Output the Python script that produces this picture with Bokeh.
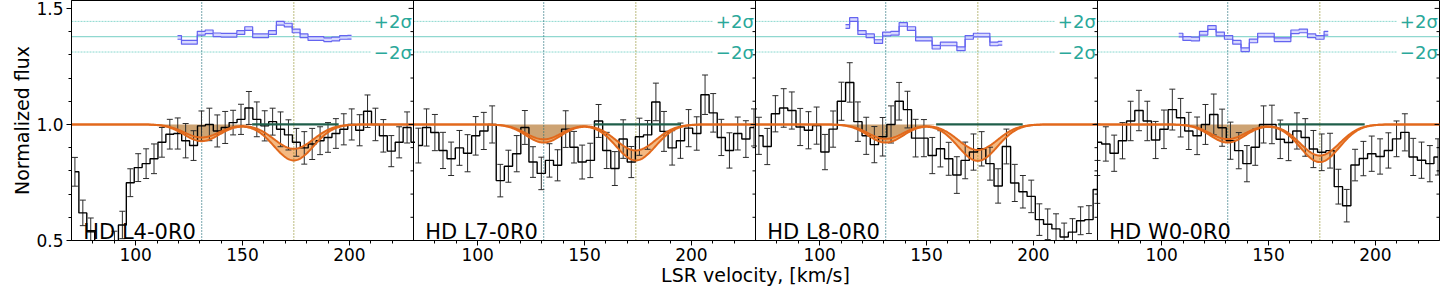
import numpy as np
from bokeh.plotting import figure
from bokeh.models import Range1d, FixedTicker, Span, Label, NumeralTickFormatter
from bokeh.embed import file_html
from bokeh.resources import INLINE

# ---------------- data ----------------
PANELS = ["HD L4-0R0", "HD L7-0R0", "HD L8-0R0", "HD W0-0R0"]

VEL_L4 = [71.6, 75.3, 79.0, 82.7, 86.4, 90.1, 93.8, 97.5, 101.2, 104.9, 108.6,
          112.3, 116.0, 119.7, 123.4, 127.1, 130.8, 134.5, 138.2, 141.9, 145.6,
          149.3, 153.0, 156.7, 160.4, 164.1, 167.8, 171.5, 175.2, 178.9, 182.6,
          186.3, 190.0, 193.7, 197.4, 201.1, 204.8, 208.5, 212.2, 215.9, 219.6,
          223.3, 227.0, 230.7]
FLUX_L4 = [0.796, 0.619, 0.537, 0.44, 0.42, 0.48, 0.567, 0.749, 0.814, 0.831, 0.852,
           0.923, 0.958, 0.961, 0.93, 0.909, 0.994, 1.0, 0.972, 0.987, 1.008,
           1.022, 1.071, 1.022, 0.994, 1.012, 0.979, 0.955, 0.923, 0.899, 0.916,
           0.93, 0.944, 0.961, 0.979, 1.0, 0.975, 1.057, 1.0, 0.951, 0.885,
           0.923, 0.987, 0.923]
ERR_L4 = [0.062, 0.055, 0.06, 0.06, 0.06, 0.06, 0.059, 0.06, 0.06, 0.064, 0.064,
          0.064, 0.064, 0.067, 0.074, 0.064, 0.064, 0.07, 0.069, 0.069, 0.053,
          0.065, 0.071, 0.075, 0.065, 0.058, 0.075, 0.065, 0.06, 0.07, 0.067,
          0.06, 0.064, 0.064, 0.067, 0.067, 0.067, 0.07, 0.07, 0.07, 0.067,
          0.067, 0.067, 0.067]

VEL_L7 = [72.3, 76.1, 80.0, 83.8, 87.6, 91.5, 95.3, 99.1, 102.9, 106.8, 110.6,
          114.4, 118.3, 122.1, 125.9, 129.8, 133.6, 137.4, 141.2, 145.1, 148.9,
          152.7, 156.6, 160.4, 164.2, 168.1, 171.9, 175.7, 179.5, 183.4, 187.2,
          191.0, 194.9, 198.7, 202.5, 206.4, 210.2, 214.0, 217.8, 221.7, 225.5, 229.3]
FLUX_L7 = [0.909, 0.987, 0.965, 0.888, 0.852, 0.899, 0.876, 0.951, 0.972, 1.0,
           0.758, 0.82, 0.874, 0.987, 0.838, 0.789, 0.845, 0.824, 0.98, 0.902,
           0.838, 0.845, 1.015, 0.888, 0.81, 0.937, 0.838, 0.947, 0.955, 1.097,
           0.97, 0.899, 0.93, 0.984, 0.961, 1.128, 1.05, 0.944, 0.888, 0.961,
           0.937, 0.987]
ERR_L7 = [0.075, 0.08, 0.078, 0.078, 0.072, 0.075, 0.08, 0.083, 0.08, 0.08,
          0.07, 0.069, 0.078, 0.073, 0.066, 0.07, 0.072, 0.067, 0.079, 0.068,
          0.073, 0.074, 0.071, 0.078, 0.073, 0.083, 0.067, 0.08, 0.062, 0.081,
          0.086, 0.074, 0.076, 0.08, 0.072, 0.085, 0.083, 0.078, 0.076, 0.071,
          0.079, 0.08]

VEL_L8 = [71.6, 75.5, 79.3, 83.2, 87.0, 90.9, 94.8, 98.6, 102.5, 106.3, 110.2,
          114.1, 117.9, 121.8, 125.6, 129.5, 133.4, 137.2, 141.1, 144.9, 148.8,
          152.7, 156.5, 160.4, 164.2, 168.1, 172.0, 175.8, 179.7, 183.5, 187.4,
          191.3, 195.1, 199.0, 202.8, 206.7, 210.6, 214.4, 218.3, 222.1, 226.0, 229.9]
FLUX_L8 = [0.951, 0.905, 1.046, 1.071, 1.06, 0.989, 0.975, 0.995, 0.881, 0.98,
           1.1, 1.181, 1.012, 0.951, 0.913, 0.947, 1.0, 1.1, 1.064, 0.941,
           0.941, 0.866, 0.895, 0.852, 0.782, 0.845, 0.881, 0.895, 0.831, 0.735,
           0.905, 0.748, 0.71, 0.69, 0.59, 0.57, 0.55, 0.515, 0.536, 0.585,
           0.59, 0.72]
ERR_L8 = [0.08, 0.078, 0.078, 0.083, 0.08, 0.08, 0.08, 0.08, 0.076, 0.078,
          0.082, 0.085, 0.085, 0.08, 0.078, 0.083, 0.08, 0.081, 0.079, 0.081,
          0.08, 0.078, 0.078, 0.071, 0.079, 0.079, 0.078, 0.074, 0.071, 0.074,
          0.075, 0.08, 0.07, 0.07, 0.068, 0.066, 0.065, 0.06, 0.058, 0.06,
          0.06, 0.06]

VEL_W0 = [70.0, 73.9, 77.8, 81.7, 85.5, 89.4, 93.3, 97.2, 101.1, 105.0, 108.9,
          112.7, 116.6, 120.5, 124.4, 128.3, 132.2, 136.1, 139.9, 143.8, 147.7,
          151.6, 155.5, 159.4, 163.3, 167.2, 171.0, 174.9, 178.8, 182.7, 186.6,
          190.5, 194.4, 198.3, 202.2, 206.1, 209.9, 213.8, 217.7, 221.6, 225.5, 229.3]
FLUX_W0 = [0.923, 0.916, 0.876, 0.93, 1.015, 1.06, 1.015, 0.933, 0.979, 1.064,
           1.029, 0.972, 0.951, 1.0, 1.043, 0.986, 0.93, 0.887, 0.831, 0.902,
           1.0, 1.0, 0.936, 0.922, 0.972, 0.944, 0.894, 0.88, 0.887, 0.732,
           0.65, 0.825, 0.853, 0.874, 0.862, 0.888, 0.938, 0.966, 0.86, 0.846,
           0.831, 0.86]
ERR_W0 = [0.078, 0.074, 0.078, 0.078, 0.085, 0.087, 0.085, 0.08, 0.083, 0.088,
          0.083, 0.08, 0.081, 0.086, 0.088, 0.08, 0.08, 0.078, 0.078, 0.078,
          0.08, 0.083, 0.083, 0.078, 0.078, 0.081, 0.08, 0.079, 0.075, 0.075,
          0.07, 0.068, 0.074, 0.076, 0.076, 0.076, 0.077, 0.08, 0.08, 0.078,
          0.078, 0.078]

VELOCITIES = [VEL_L4, VEL_L7, VEL_L8, VEL_W0]
FLUXES = [FLUX_L4, FLUX_L7, FLUX_L8, FLUX_W0]
ERRORS = [ERR_L4, ERR_L7, ERR_L8, ERR_W0]
BIN_WIDTH = [3.7, 3.83, 3.86, 3.886]

# residuals (drawn around the residual zero level)
RES_L4 = [1.375, 1.354, 1.354, 1.393, 1.399, 1.386, 1.384, 1.384, 1.396, 1.413,
          1.382, 1.382, 1.396, 1.436, 1.428, 1.403, 1.382, 1.37, 1.37, 1.365,
          1.368, 1.375, 1.376]
RES_L8 = [1.422, 1.452, 1.396, 1.382, 1.357, 1.39, 1.393, 1.431, 1.413, 1.368,
          1.368, 1.333, 1.347, 1.347, 1.326, 1.375, 1.385, 1.385, 1.347, 1.35]
RES_W0 = [1.385, 1.37, 1.368, 1.393, 1.418, 1.39, 1.375, 1.354, 1.322, 1.36,
          1.385, 1.385, 1.365, 1.365, 1.399, 1.403, 1.382, 1.375, 1.393]
RESIDUALS = [RES_L4, None, RES_L8, RES_W0]
RES_V0 = [119.6, None, 112.1, 108.0]   # velocity of the first residual bin
RES_HALFWIDTH = 0.008
RES_ZERO = 1.378
RES_TWO_SIGMA = 0.066

# fitted model: two components
LINE_V = [130.9, 174.0]
COMP_SIGMA = [8.2, 9.2]
C1_DEPTH_LO = [0.056, 0.064, 0.062, 0.063]
C1_DEPTH_HI = [0.072, 0.078, 0.078, 0.078]
C2_DEPTH_LO = [0.105, 0.112, 0.11, 0.134]
C2_DEPTH_HI = [0.155, 0.155, 0.157, 0.162]
EXTRA_COMP_SPAN = [154.5, 195.0]

V_MIN, V_MAX = 70.0, 230.0
SPAN = V_MAX - V_MIN
OFFSETS = [0.0, SPAN, 2 * SPAN, 3 * SPAN]
X_MAJOR = [100, 150, 200]
X_MINOR = [80, 90, 110, 120, 130, 140, 160, 170, 180, 190, 210, 220]
Y_MAJOR = [0.5, 1.0, 1.5]
Y_MINOR = [0.6, 0.7, 0.8, 0.9, 1.1, 1.2, 1.3, 1.4]
Y_TOP = 1.534

FONT = "DejaVu Sans"
ORANGE = "#e2691c"
BAND = "#f2ad6c"
TAN = "#c4935a"
TEAL = "#2aa89a"

# ---------------- figure ----------------
p = figure(width=1440, height=288,
           x_range=Range1d(V_MIN, V_MIN + 4 * SPAN), y_range=Range1d(0.5, Y_TOP),
           output_backend="svg", toolbar_location=None,
           min_border_left=71, min_border_right=1, min_border_top=0, min_border_bottom=44)
p.xgrid.visible = False
p.ygrid.visible = False
p.outline_line_color = "black"
p.outline_line_width = 1
p.background_fill_color = "white"

majors, minors, overrides = [], [], {}
for off in OFFSETS:
    for t in X_MAJOR:
        majors.append(t + off)
        overrides[int(t + off)] = str(t)
    minors += [t + off for t in X_MINOR]
p.xaxis.ticker = FixedTicker(ticks=majors, minor_ticks=minors)
p.xaxis.major_label_overrides = overrides
p.yaxis.ticker = FixedTicker(ticks=Y_MAJOR, minor_ticks=Y_MINOR)
p.yaxis.formatter = NumeralTickFormatter(format="0.0")
for ax in (p.xaxis[0], p.yaxis[0]):
    ax.major_tick_in = 0
    ax.minor_tick_in = 0
    ax.major_tick_out = 5
    ax.minor_tick_out = 3
    ax.major_label_text_font = FONT
    ax.major_label_text_font_size = "17px"
    ax.major_label_text_color = "black"
    ax.axis_line_color = "black"
    ax.major_tick_line_color = "black"
    ax.minor_tick_line_color = "black"
    ax.axis_label_text_font = FONT
    ax.axis_label_text_font_size = "19px"
    ax.axis_label_text_font_style = "normal"
    ax.axis_label_text_color = "black"
    ax.axis_label_standoff = 0
p.xaxis.major_label_standoff = 2
p.yaxis.major_label_standoff = 3
p.xaxis.axis_label = "LSR velocity, [km/s]"
p.yaxis.axis_label = "Normalized flux"

vfine = np.linspace(V_MIN, V_MAX, 401)
g1 = np.exp(-0.5 * ((vfine - LINE_V[0]) / COMP_SIGMA[0]) ** 2)
g2 = np.exp(-0.5 * ((vfine - LINE_V[1]) / COMP_SIGMA[1]) ** 2)

for k in range(4):
    off = OFFSETS[k]
    xf = vfine + off
    upper = 1.0 - C1_DEPTH_LO[k] * g1 - C2_DEPTH_LO[k] * g2
    lower = 1.0 - C1_DEPTH_HI[k] * g1 - C2_DEPTH_HI[k] * g2
    comp1 = 1.0 - C1_DEPTH_HI[k] * g1

    # component-1 shaded area and model band
    p.varea(x=xf, y1=np.ones_like(xf), y2=comp1, fill_color=TAN, fill_alpha=0.85)
    p.varea(x=xf, y1=upper, y2=lower, fill_color=BAND, fill_alpha=0.85)

    # residual reference lines
    p.line([V_MIN + off, V_MAX + off], [RES_ZERO, RES_ZERO], line_color="#74cfc4", line_width=1)
    for s in (1, -1):
        p.line([V_MIN + off, 210 + off], [RES_ZERO + s * RES_TWO_SIGMA] * 2,
               line_color="#8ad8cf", line_width=1, line_dash="2 1")
    p.add_layout(Label(x=V_MAX + off - 0.8, y=RES_ZERO + RES_TWO_SIGMA, text="+2σ",
                       text_align="right", text_baseline="middle", text_font=FONT,
                       text_font_size="18px", text_color=TEAL))
    p.add_layout(Label(x=V_MAX + off - 0.8, y=RES_ZERO - RES_TWO_SIGMA, text="\u22122σ",
                       text_align="right", text_baseline="middle", text_font=FONT,
                       text_font_size="18px", text_color=TEAL))

    # vertical component markers
    p.line([LINE_V[0] + off] * 2, [0.5, Y_TOP], line_color="#1f6b78", line_width=1.2, line_dash="1 2")
    p.line([LINE_V[1] + off] * 2, [0.5, Y_TOP], line_color="#8f8f2c", line_width=1.2, line_dash="1 2")

    # data
    v = np.array(VELOCITIES[k])
    f = np.array(FLUXES[k])
    e = np.array(ERRORS[k])
    inside = (v >= V_MIN) & (v < V_MAX)
    p.segment(x0=v[inside] + off, y0=f[inside] - e[inside], x1=v[inside] + off,
              y1=f[inside] + e[inside], line_color="#2b2b2b", line_width=1)
    p.scatter(x=np.concatenate([v[inside], v[inside]]) + off,
              y=np.concatenate([f[inside] - e[inside], f[inside] + e[inside]]),
              marker="dash", size=6, line_color="#2b2b2b", line_width=1)
    p.step(x=v + off, y=f, mode="center", line_color="black", line_width=1.4)

    # model lines
    p.line(xf, upper, line_color=ORANGE, line_width=2)
    p.line(xf, lower, line_color=ORANGE, line_width=2)
    p.line([EXTRA_COMP_SPAN[0] + off, EXTRA_COMP_SPAN[1] + off], [1.0, 1.0],
           line_color="#1f5e4a", line_width=2.2)

    # residuals
    if RESIDUALS[k] is not None:
        r = np.array(RESIDUALS[k])
        rv = np.array([RES_V0[k] + BIN_WIDTH[k] * j for j in range(len(r))]) + off
        p.varea_step(x=rv, y1=r - RES_HALFWIDTH, y2=r + RES_HALFWIDTH, step_mode="center",
                     fill_color="#c9c9ff", fill_alpha=0.7)
        p.step(x=rv, y=r + RES_HALFWIDTH, mode="center", line_color="#6464f0", line_width=1.2)
        p.step(x=rv, y=r - RES_HALFWIDTH, mode="center", line_color="#6464f0", line_width=1.2)

    # panel name
    p.add_layout(Label(x=V_MIN + off + 5.5, y=0.538, text=PANELS[k], text_font=FONT,
                       text_font_size="21px", text_color="black", text_baseline="alphabetic"))

# panel separators and inner tick marks
for k in range(4):
    b = V_MAX + OFFSETS[k]
    if k < 3:
        p.add_layout(Span(location=b, dimension="height", line_color="black", line_width=1))
    p.segment(x0=[b - 2.3] * len(Y_MAJOR), y0=Y_MAJOR, x1=[b] * len(Y_MAJOR), y1=Y_MAJOR,
              line_color="black", line_width=1)
    p.segment(x0=[b - 1.4] * len(Y_MINOR), y0=Y_MINOR, x1=[b] * len(Y_MINOR), y1=Y_MINOR,
              line_color="black", line_width=1)

open("out.html", "w").write(file_html(p, INLINE))
